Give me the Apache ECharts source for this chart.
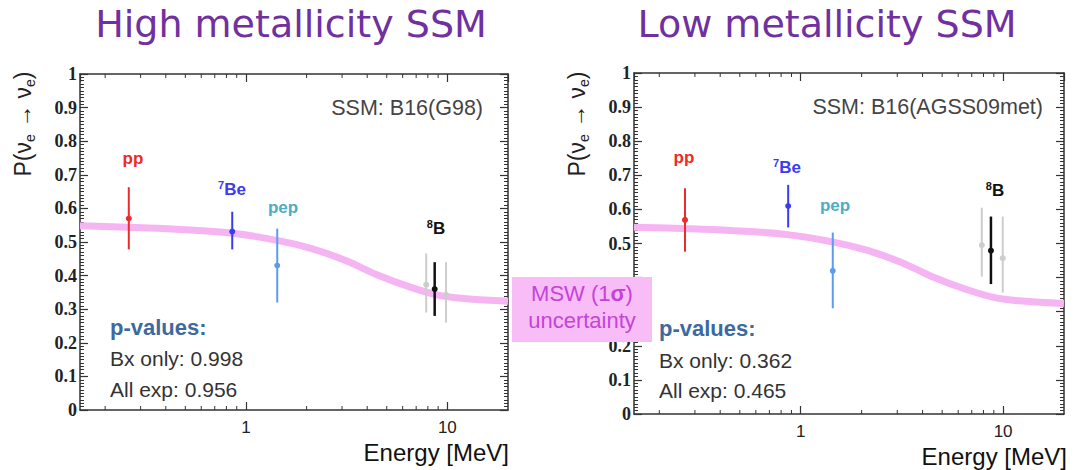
<!DOCTYPE html>
<html>
<head>
<meta charset="utf-8">
<script src="https://cdn.jsdelivr.net/npm/echarts@6/dist/echarts.min.js"></script>
<style>
  html, body { margin: 0; background: #fff; }
  #main { width: 1080px; height: 470px; }
</style>
</head>
<body>
<div id="main"></div>
<script>
// survival probability P(nu_e -> nu_e) vs energy
// order: pp, 7Be, pep, 8B (grey), 8B (grey), 8B (Borexino, drawn last)
const pointColors = ['#ee2a2a', '#3b3bf2', '#5b9cf0', '#cdcdcd', '#cdcdcd', '#111111'];
const pointWidths = [2, 2, 2, 2, 2, 2.5];

const highE  = [0.262, 0.855, 1.43, 7.85, 9.85, 8.65];
const highP  = [0.570, 0.531, 0.430, 0.373, 0.343, 0.360];
const highLo = [0.478, 0.478, 0.320, 0.290, 0.260, 0.280];
const highHi = [0.663, 0.590, 0.540, 0.466, 0.440, 0.440];

const lowE  = [0.268, 0.867, 1.44, 7.85, 9.96, 8.71];
const lowP  = [0.569, 0.610, 0.420, 0.495, 0.457, 0.479];
const lowLo = [0.476, 0.547, 0.310, 0.403, 0.356, 0.381];
const lowHi = [0.662, 0.672, 0.532, 0.605, 0.579, 0.579];

// MSW-LMA prediction (centre of the 1 sigma band)
const mswE = [0.15, 0.26, 0.45, 0.86, 1.45, 2.1, 3.1, 4.5, 6.6, 9, 12, 20];
const mswP = [0.548, 0.544, 0.538, 0.526, 0.504, 0.481, 0.446, 0.402, 0.365, 0.342, 0.332, 0.324];

// minor ticks of the log energy axis
const xMinorTicks = [0.2, 0.3, 0.4, 0.5, 0.6, 0.7, 0.8, 0.9, 2, 3, 4, 5, 6, 7, 8, 9];
// y labels hidden behind the MSW box on the right panel
const coveredYLabels = [0.3, 0.4];

const chart = echarts.init(document.getElementById('main'), null, { renderer: 'svg' });

const axisColor = '#333';

function xAxisFor(grid, side) {
  return {
    type: 'log', logBase: 10, gridIndex: grid, position: side,
    min: 0.15, max: 20,
    axisLine: { show: true, onZero: false, lineStyle: { color: axisColor, width: 1.5 } },
    axisTick: { inside: true, length: 8, lineStyle: { color: axisColor, width: 1.2 } },
    axisLabel: {
      show: side === 'bottom', showMinLabel: false, showMaxLabel: false,
      margin: 9, fontFamily: 'Liberation Sans', fontSize: 17, color: '#222'
    },
    splitLine: { show: false }
  };
}

function yAxisFor(grid, side) {
  return {
    type: 'value', gridIndex: grid, position: side,
    min: 0, max: 1, interval: 0.1,
    axisLine: { show: true, lineStyle: { color: axisColor, width: 1.5 } },
    axisTick: { inside: true, length: 8, lineStyle: { color: axisColor, width: 1.2 } },
    minorTick: { show: true, splitNumber: 10, length: 4, lineStyle: { color: axisColor, width: 1 } },
    axisLabel: {
      show: side === 'left', margin: 3,
      fontFamily: 'Liberation Serif', fontWeight: 'bold', fontSize: 18, color: '#222',
      formatter: function (v) {
        if (grid === 1 && coveredYLabels.some(c => Math.abs(c - v) < 1e-6)) return '';
        return String(+v.toFixed(1));
      }
    },
    splitLine: { show: false }
  };
}

function mswSeries(ax) {
  return {
    type: 'line', xAxisIndex: ax, yAxisIndex: ax,
    data: mswE.map((e, i) => [e, mswP[i]]),
    smooth: 0.4, symbol: 'none', silent: true, z: 1,
    lineStyle: { width: 7, color: '#f5b5f2' }
  };
}

function minorTickSeries(ax) {
  return {
    type: 'custom', xAxisIndex: ax, yAxisIndex: ax, silent: true,
    data: xMinorTicks.map(v => [v, 0]),
    renderItem: function (params, api) {
      const b = api.coord([api.value(0), 0]);
      const t = api.coord([api.value(0), 1]);
      const st = { stroke: axisColor, lineWidth: 1 };
      return {
        type: 'group',
        children: [
          { type: 'line', shape: { x1: b[0], y1: b[1], x2: b[0], y2: b[1] - 4 }, style: st },
          { type: 'line', shape: { x1: t[0], y1: t[1], x2: t[0], y2: t[1] + 4 }, style: st }
        ]
      };
    }
  };
}

function errorSeries(ax, E, P, lo, hi) {
  return {
    type: 'custom', xAxisIndex: ax, yAxisIndex: ax, silent: true, z: 5,
    data: E.map((e, i) => [e, P[i], lo[i], hi[i], i]),
    renderItem: function (params, api) {
      const x = api.value(0);
      const c = api.coord([x, api.value(1)]);
      const l = api.coord([x, api.value(2)]);
      const h = api.coord([x, api.value(3)]);
      const k = api.value(4);
      const col = pointColors[k];
      return {
        type: 'group',
        children: [
          { type: 'line', shape: { x1: l[0], y1: l[1], x2: h[0], y2: h[1] },
            style: { stroke: col, lineWidth: pointWidths[k] } },
          { type: 'circle', shape: { cx: c[0], cy: c[1], r: 3 }, style: { fill: col } }
        ]
      };
    }
  };
}

function txt(x, y, text, opts) {
  return {
    type: 'text', x: x, y: y, z: 50,
    style: Object.assign({
      text: text, align: 'left', verticalAlign: 'middle',
      fontFamily: 'Liberation Sans', fontSize: 21, fill: '#333'
    }, opts || {})
  };
}

const yTitleRich = {
  n: { fontFamily: 'Liberation Sans', fontSize: 23, fill: '#222', lineHeight: 27 },
  s: { fontFamily: 'Liberation Sans', fontSize: 14, fill: '#222', verticalAlign: 'bottom', lineHeight: 14 }
};
const supRich = {
  sup: { fontFamily: 'Liberation Sans', fontWeight: 'bold', fontSize: 11, verticalAlign: 'top', lineHeight: 11 },
  b: { fontFamily: 'Liberation Sans', fontWeight: 'bold', fontSize: 17, lineHeight: 20 }
};

function isotopeLabels(pos, colors) {
  return [
    txt(pos[0][0], pos[0][1], 'pp', { align: 'center', fontWeight: 'bold', fontSize: 17, fill: colors[0] }),
    txt(pos[1][0], pos[1][1], '{sup|7}{b|Be}', { align: 'center', rich: supRich, fill: colors[1] }),
    txt(pos[2][0], pos[2][1], 'pep', { align: 'center', fontWeight: 'bold', fontSize: 17, fill: '#4aaec4' }),
    txt(pos[3][0], pos[3][1], '{sup|8}{b|B}', { align: 'center', rich: supRich, fill: '#111' })
  ];
}

function yTitle(x, y) {
  return {
    type: 'text', x: x, y: y, rotation: Math.PI / 2, z: 50,
    style: {
      text: '{n|P(ν}{s|e}{n| → ν}{s|e}{n|)}', rich: yTitleRich,
      align: 'center', verticalAlign: 'middle', fill: '#222'
    }
  };
}

const graphics = [].concat(
  [
    txt(291, 24, 'High metallicity SSM', { align: 'center', fontFamily: 'DejaVu Sans', fontSize: 38, fill: '#7030a0' }),
    txt(827, 24, 'Low metallicity SSM', { align: 'center', fontFamily: 'DejaVu Sans', fontSize: 38, fill: '#7030a0' }),
    yTitle(23, 124),
    yTitle(577, 124),
    txt(483, 108, 'SSM: B16(G98)', { align: 'right', fontSize: 21.5, fill: '#444' }),
    txt(1043, 107, 'SSM: B16(AGSS09met)', { align: 'right', fontSize: 21.5, fill: '#444' }),
    txt(110, 327, 'p-values:', { fontWeight: 'bold', fontSize: 22, fill: '#3d6a9e' }),
    txt(110, 358, 'Bx only: 0.998', { fontSize: 21 }),
    txt(110, 389, 'All exp: 0.956', { fontSize: 21 }),
    txt(659, 328, 'p-values:', { fontWeight: 'bold', fontSize: 22, fill: '#3d6a9e' }),
    txt(659, 360, 'Bx only: 0.362', { fontSize: 21 }),
    txt(659, 390, 'All exp: 0.465', { fontSize: 21 }),
    txt(509, 452, 'Energy [MeV]', { align: 'right', fontSize: 24, fill: '#111' }),
    txt(1067, 456, 'Energy [MeV]', { align: 'right', fontSize: 24, fill: '#111' })
  ],
  isotopeLabels([[133, 158], [232, 189], [283, 207], [436, 228]], pointColors),
  isotopeLabels([[684, 157], [787, 167], [835, 205], [995, 190]], pointColors),
  [
    { type: 'rect', z: 100, shape: { x: 512, y: 277, width: 140, height: 65 }, style: { fill: '#f8bdf6' } },
    { type: 'text', z: 101, x: 582, y: 293,
      style: { text: '{n|MSW (1}{b|σ}{n|)}', align: 'center', verticalAlign: 'middle',
        rich: { n: { fontFamily: 'Liberation Sans', fontSize: 22, fill: '#c444d6' },
                b: { fontFamily: 'Liberation Sans', fontSize: 22, fontWeight: 'bold', fill: '#c444d6' } } } },
    { type: 'text', z: 101, x: 582, y: 320,
      style: { text: 'uncertainty', align: 'center', verticalAlign: 'middle',
        fontFamily: 'Liberation Sans', fontSize: 22, fill: '#c444d6' } }
  ]
);

const option = {
  backgroundColor: '#fff',
  animation: false,
  grid: [
    { left: 80, top: 74, width: 428, height: 336 },
    { left: 634, top: 73, width: 430, height: 341 }
  ],
  xAxis: [xAxisFor(0, 'bottom'), xAxisFor(0, 'top'), xAxisFor(1, 'bottom'), xAxisFor(1, 'top')],
  yAxis: [yAxisFor(0, 'left'), yAxisFor(0, 'right'), yAxisFor(1, 'left'), yAxisFor(1, 'right')],
  series: [
    mswSeries(0), minorTickSeries(0), errorSeries(0, highE, highP, highLo, highHi),
    mswSeries(2), minorTickSeries(2), errorSeries(2, lowE, lowP, lowLo, lowHi)
  ],
  graphic: graphics
};

chart.setOption(option);
</script>
</body>
</html>
